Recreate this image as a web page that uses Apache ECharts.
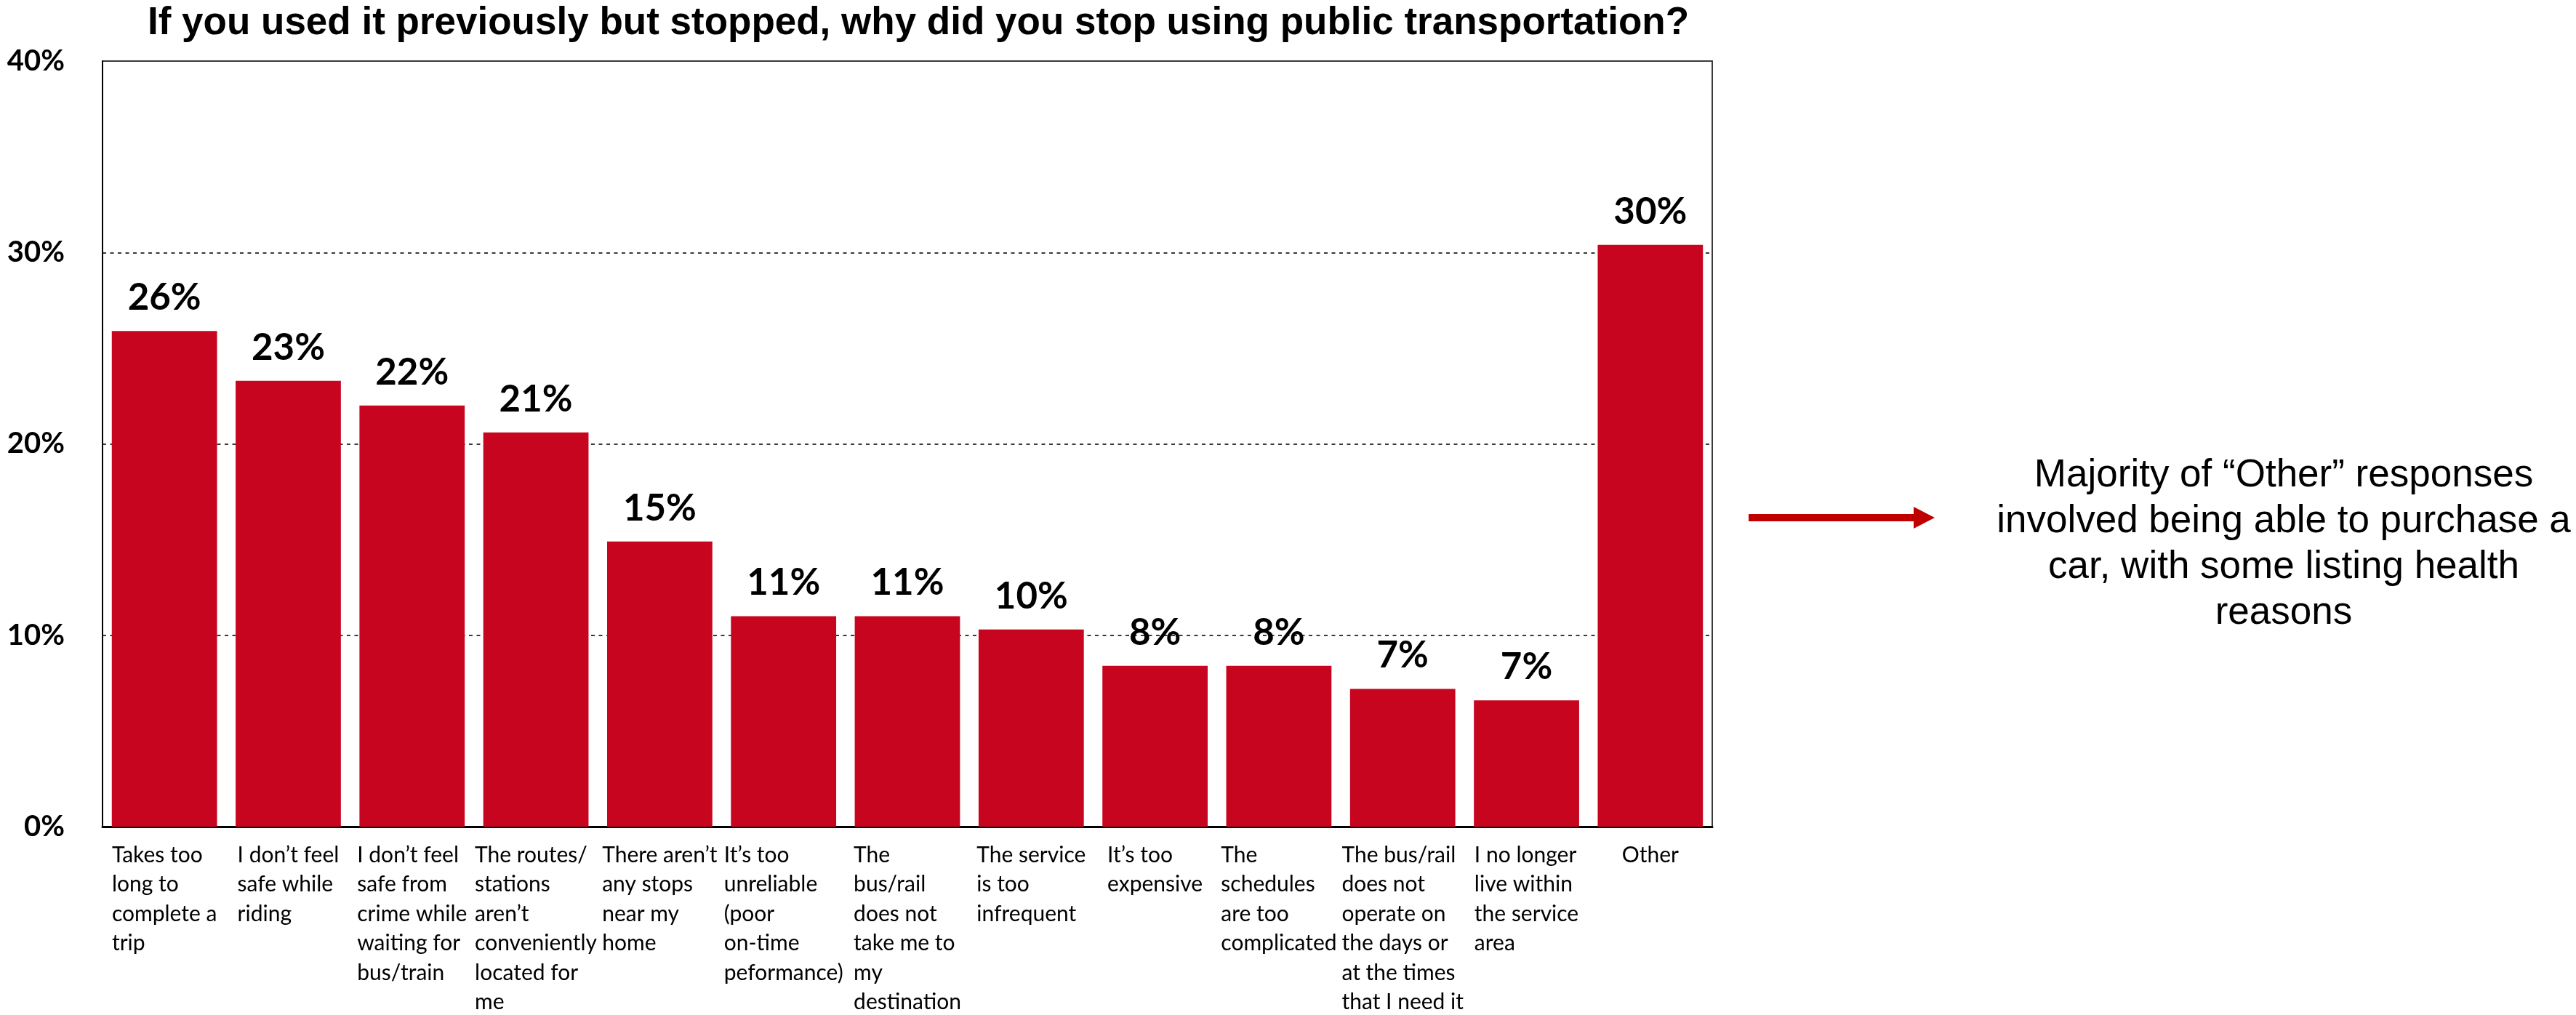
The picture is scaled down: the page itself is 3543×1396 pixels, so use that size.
<!DOCTYPE html>
<html>
<head>
<meta charset="utf-8">
<title>Reasons for stopping public transportation</title>
<script src="https://cdn.jsdelivr.net/npm/echarts@6/dist/echarts.min.js"></script>
<style>
  html, body { margin: 0; padding: 0; background: #ffffff; }
  #chart { width: 3543px; height: 1396px; }
</style>
</head>
<body>
<div id="chart"></div>
<script>
// Survey answers (multi-select), share of former riders choosing each reason
const reasons = [
  'Takes too\nlong to\ncomplete a\ntrip',
  'I don’t feel\nsafe while\nriding',
  'I don’t feel\nsafe from\ncrime while\nwaiting for\nbus/train',
  'The routes/\nstations\naren’t\nconveniently\nlocated for\nme',
  'There aren’t\nany stops\nnear my\nhome',
  'It’s too\nunreliable\n(poor\non-time\npeformance)',
  'The\nbus/rail\ndoes not\ntake me to\nmy\ndestination',
  'The service\nis too\ninfrequent',
  'It’s too\nexpensive',
  'The\nschedules\nare too\ncomplicated',
  'The bus/rail\ndoes not\noperate on\nthe days or\nat the times\nthat I need it',
  'I no longer\nlive within\nthe service\narea',
  'Other'
];
const sharePct = [25.9, 23.3, 22.0, 20.6, 14.9, 11.0, 11.0, 10.3, 8.4, 8.4, 7.2, 6.6, 30.4];

const yTicks = [0, 10, 20, 30, 40];

const titleText = 'If you used it previously but stopped, why did you stop using public transportation?';
const noteLines = [
  'Majority of “Other” responses',
  'involved being able to purchase a',
  'car, with some listing health',
  'reasons'
];

const BAR_RED = '#C8051F';
const ARROW_RED = '#C00000';

const chart = echarts.init(document.getElementById('chart'), null, { renderer: 'canvas' });

chart.setOption({
  backgroundColor: '#ffffff',
  animation: false,
  title: {
    text: titleText,
    left: 1258,
    textAlign: 'center',
    top: 1,
    textStyle: {
      fontFamily: 'Liberation Sans, Arial, sans-serif',
      fontWeight: 'bold',
      fontSize: 53,
      color: '#000000'
    }
  },
  grid: {
    left: 141,
    right: 1188,
    top: 84,
    bottom: 259,
    show: true,
    borderColor: '#3a3a3a',
    borderWidth: 2,
    containLabel: false
  },
  xAxis: {
    type: 'category',
    data: reasons,
    boundaryGap: true,
    axisLine: { show: true, lineStyle: { color: '#000000', width: 3 } },
    axisTick: { show: false },
    axisLabel: {
      interval: 0,
      margin: 19,
      align: 'center',
      verticalAlign: 'top',
      formatter: function (v) {
        return v.split('\n').map(function (l) { return '{t|' + l + '}'; }).join('\n');
      },
      rich: {
        t: {
          fontFamily: 'Lato, sans-serif',
          fontSize: 30,
          lineHeight: 40.5,
          color: '#000000',
          align: 'left'
        }
      }
    }
  },
  yAxis: {
    type: 'value',
    min: yTicks[0],
    max: yTicks[yTicks.length - 1],
    interval: 10,
    axisLine: { show: true, lineStyle: { color: '#000000', width: 2 } },
    axisTick: { show: false },
    axisLabel: {
      margin: 52,
      formatter: function (v) { return yTicks.indexOf(v) >= 0 ? v + '%' : ''; },
      fontFamily: 'Lato, sans-serif',
      fontWeight: 'bold',
      fontSize: 40,
      color: '#000000'
    },
    splitLine: {
      show: true,
      lineStyle: { color: '#3a3a3a', width: 2, type: [5, 5.5] }
    }
  },
  series: [{
    type: 'bar',
    data: sharePct,
    barCategoryGap: '15%',
    itemStyle: { color: BAR_RED },
    z: 3,
    label: {
      show: true,
      position: 'top',
      distance: 20,
      formatter: function (p) { return Math.round(p.value) + '%'; },
      fontFamily: 'Lato, sans-serif',
      fontWeight: 'bold',
      fontSize: 51,
      color: '#000000'
    }
  }],
  graphic: [
    {
      type: 'group',
      children: [
        {
          type: 'rect',
          shape: { x: 2405, y: 707, width: 230, height: 10 },
          style: { fill: ARROW_RED }
        },
        {
          type: 'polygon',
          shape: { points: [[2632, 697], [2661, 712], [2632, 727]] },
          style: { fill: ARROW_RED }
        }
      ]
    },
    {
      type: 'text',
      x: 3141,
      y: 749,
      style: {
        text: noteLines.join('\n'),
        fontFamily: 'Liberation Sans, Arial, sans-serif',
        fontSize: 53,
        lineHeight: 63,
        fill: '#000000',
        align: 'center',
        verticalAlign: 'middle'
      }
    }
  ]
});
</script>
</body>
</html>
